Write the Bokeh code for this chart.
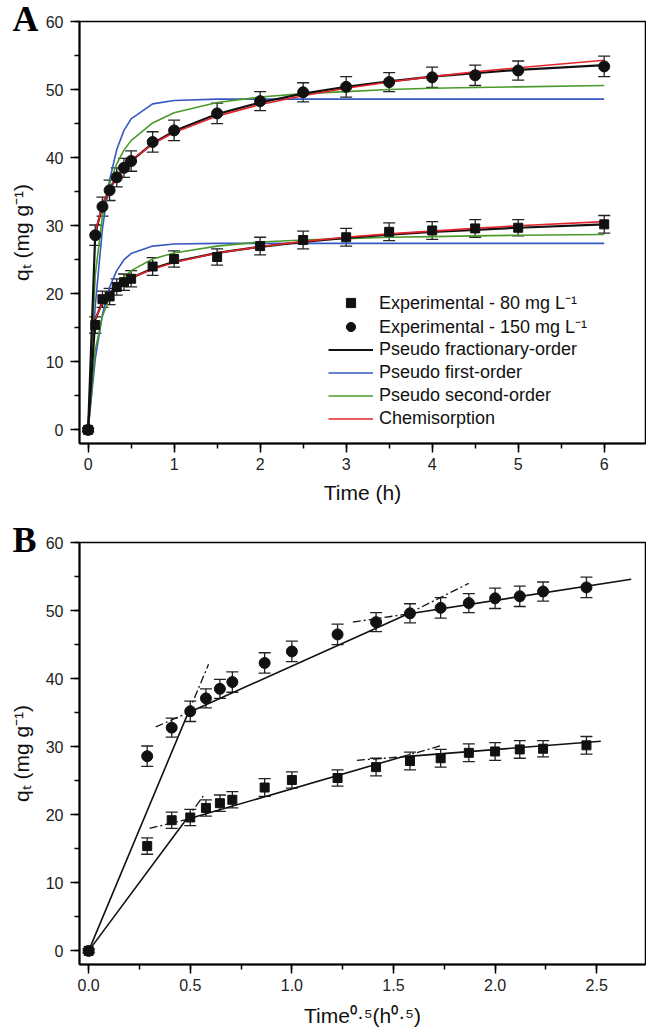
import numpy as np
from bokeh.plotting import figure
from bokeh.models import (ColumnDataSource, Whisker, TeeHead, Legend, LegendItem, Title,
                          SingleIntervalTicker, NumeralTickFormatter, Range1d)
from bokeh.layouts import column
from bokeh.embed import file_html
from bokeh.resources import INLINE

# ---------------- data ----------------
time_h = [0, 0.083, 0.167, 0.25, 0.333, 0.417, 0.5, 0.75, 1, 1.5, 2, 2.5, 3, 3.5, 4, 4.5, 5, 6]

q_80 = [0, 15.4, 19.2, 19.6, 21.0, 21.7, 22.2, 24.0, 25.1, 25.4, 27.0, 27.9, 28.3, 29.1, 29.3, 29.6, 29.7, 30.2]
err_80 = [0.3, 1.2, 1.2, 1.2, 1.2, 1.2, 1.2, 1.3, 1.2, 1.2, 1.3, 1.3, 1.3, 1.3, 1.3, 1.3, 1.2, 1.3]
q_150 = [0, 28.6, 32.8, 35.2, 37.1, 38.5, 39.5, 42.3, 44.0, 46.5, 48.3, 49.6, 50.4, 51.1, 51.8, 52.1, 52.8, 53.4]
err_150 = [0.3, 1.5, 1.4, 1.5, 1.4, 1.4, 1.5, 1.5, 1.5, 1.5, 1.4, 1.4, 1.5, 1.4, 1.5, 1.5, 1.4, 1.5]

# model curves read at the experimental times
frac_80 = [0, 16.2, 18.8, 20.1, 21.0, 21.7, 22.3, 23.7, 24.7, 26.0, 26.9, 27.6, 28.2, 28.7, 29.1, 29.4, 29.7, 30.2]
frac_150 = [0, 28.8, 33.0, 35.4, 37.1, 38.4, 39.5, 42.1, 43.9, 46.4, 48.1, 49.4, 50.4, 51.2, 51.9, 52.4, 52.9, 53.6]
first_80 = [0, 10.4, 17.0, 21.0, 23.4, 25.0, 25.9, 27.0, 27.3, 27.4, 27.4, 27.4, 27.4, 27.4, 27.4, 27.4, 27.4, 27.4]
first_150 = [0, 18.2, 29.6, 36.7, 41.2, 44.0, 45.7, 47.9, 48.4, 48.6, 48.6, 48.6, 48.6, 48.6, 48.6, 48.6, 48.6, 48.6]
second_80 = [0, 11.7, 16.7, 19.5, 21.3, 22.5, 23.4, 25.1, 26.0, 27.0, 27.6, 27.9, 28.1, 28.3, 28.4, 28.5, 28.6, 28.7]
second_150 = [0, 22.7, 31.5, 36.2, 39.1, 41.1, 42.5, 45.1, 46.6, 48.1, 48.9, 49.4, 49.7, 50.0, 50.2, 50.3, 50.4, 50.6]
# chemisorption (Elovich) starts at the first non-zero time
chem_80 = [16.3, 18.6, 20.0, 20.9, 21.7, 22.3, 23.6, 24.6, 26.0, 26.9, 27.7, 28.3, 28.8, 29.2, 29.6, 30.0, 30.6]
chem_150 = [29.0, 33.1, 35.5, 37.2, 38.5, 39.6, 42.0, 43.7, 46.1, 47.8, 49.1, 50.2, 51.1, 51.9, 52.6, 53.2, 54.3]

# panel B: intraparticle diffusion multilinear fits (break points)
ipd_150_x = [0, 0.49, 1.57, 2.67]
ipd_150_y = [0, 35.0, 49.5, 54.6]
ipd_80_x = [0, 0.48, 1.54, 2.52]
ipd_80_y = [0, 19.3, 28.5, 30.8]
# dash-dot extensions of the linear stages
ext_150_x = [[0.49, 0.59], [0.33, 0.49], [1.57, 1.87], [1.30, 1.57]]
ext_150_y = [[35.0, 42.1], [32.9, 35.0], [49.5, 54.0], [48.3, 49.5]]
ext_80_x = [[0.48, 0.57], [0.30, 0.48], [1.54, 1.74], [1.32, 1.54]]
ext_80_y = [[19.3, 23.0], [18.0, 19.3], [28.5, 30.2], [28.0, 28.5]]

legend_labels = ["Experimental - 80 mg L\u207b\u00b9", "Experimental - 150 mg L\u207b\u00b9",
                 "Pseudo fractionary-order", "Pseudo first-order",
                 "Pseudo second-order", "Chemisorption"]
panel_letters = ["A", "B"]

BLUE = "#3758c0"
GREEN = "#4b9a2c"
RED = "#e3242b"
BLACK = "#111111"
FONT = "Liberation Sans"


def style(p, xint, fmt=None):
    p.outline_line_color = "black"
    p.outline_line_width = 1.5
    p.xgrid.visible = False
    p.ygrid.visible = False
    p.background_fill_color = "white"
    p.border_fill_color = "white"
    p.xaxis.ticker = SingleIntervalTicker(interval=xint, num_minor_ticks=2)
    p.yaxis.ticker = SingleIntervalTicker(interval=10, num_minor_ticks=2)
    if fmt:
        p.xaxis.formatter = NumeralTickFormatter(format=fmt)
    for ax in (p.xaxis[0], p.yaxis[0]):
        ax.axis_line_width = 2
        ax.axis_line_color = "black"
        ax.major_tick_out = 9
        ax.major_tick_in = 0
        ax.minor_tick_out = 5
        ax.minor_tick_in = 0
        ax.major_tick_line_width = 1.5
        ax.minor_tick_line_width = 1.5
        ax.major_label_text_font = FONT
        ax.major_label_text_font_size = "16px"
        ax.major_label_text_color = "#222222"
        ax.axis_label_text_font = FONT
        ax.axis_label_text_font_size = "21px"
        ax.axis_label_text_font_style = "normal"
        ax.axis_label_text_color = "#111111"
    p.yaxis.major_label_standoff = 7
    p.yaxis.axis_label_standoff = 10
    p.xaxis.major_label_standoff = 5


def errbars(p, x, y, e):
    src = ColumnDataSource(dict(x=x, up=[a + b for a, b in zip(y, e)], lo=[a - b for a, b in zip(y, e)]))
    w = Whisker(source=src, base="x", upper="up", lower="lo", line_color="#222222", line_width=1.3,
                upper_head=TeeHead(size=12, line_color="#222222", line_width=1.3),
                lower_head=TeeHead(size=12, line_color="#222222", line_width=1.3))
    p.add_layout(w)


def panel_letter(p, txt):
    t = Title(text=txt, align="left", offset=-67, standoff=-34,
              text_font="Liberation Serif", text_font_style="bold", text_font_size="36px",
              text_color="black")
    p.add_layout(t, "above")


# ---------------- panel A ----------------
pa = figure(width=646, height=521, x_range=Range1d(-0.1, 6.48), y_range=Range1d(-2, 60),
            output_backend="svg", toolbar_location=None,
            min_border_left=79, min_border_right=1, min_border_top=21, min_border_bottom=78)
style(pa, 1)
pa.xaxis.axis_label = "Time (h)"
pa.xaxis.axis_label_standoff = 8
pa.yaxis.axis_label = "q\u209c (mg g\u207b\u00b9)"

b1 = pa.line(time_h, first_80, line_color=BLUE, line_width=1.6)
pa.line(time_h, first_150, line_color=BLUE, line_width=1.6)
g1 = pa.line(time_h, second_80, line_color=GREEN, line_width=1.6)
pa.line(time_h, second_150, line_color=GREEN, line_width=1.6)
k1 = pa.line(time_h, frac_80, line_color=BLACK, line_width=2.2)
pa.line(time_h, frac_150, line_color=BLACK, line_width=2.2)
r1 = pa.line(time_h[1:], chem_80, line_color=RED, line_width=1.6)
pa.line(time_h[1:], chem_150, line_color=RED, line_width=1.6)
sq = pa.scatter(time_h, q_80, marker="square", size=9, color=BLACK)
ci = pa.scatter(time_h, q_150, marker="circle", size=11, color=BLACK)
errbars(pa, time_h, q_80, err_80)
errbars(pa, time_h, q_150, err_150)

leg = Legend(items=[LegendItem(label=legend_labels[0], renderers=[sq]),
                    LegendItem(label=legend_labels[1], renderers=[ci]),
                    LegendItem(label=legend_labels[2], renderers=[k1]),
                    LegendItem(label=legend_labels[3], renderers=[b1]),
                    LegendItem(label=legend_labels[4], renderers=[g1]),
                    LegendItem(label=legend_labels[5], renderers=[r1])],
             location=(249, 13))
leg.background_fill_alpha = 0
leg.border_line_alpha = 0
leg.padding = 0
leg.margin = 0
leg.spacing = 0
leg.glyph_width = 45
leg.glyph_height = 23
leg.label_height = 23
leg.label_standoff = 6
leg.label_text_font = FONT
leg.label_text_font_size = "18px"
leg.label_text_color = "#111111"
pa.add_layout(leg)
panel_letter(pa, panel_letters[0])

# ---------------- panel B ----------------
sqrt_t = np.sqrt(np.array(time_h)).tolist()
pb = figure(width=646, height=509, x_range=Range1d(-0.045, 2.74), y_range=Range1d(-2, 60),
            output_backend="svg", toolbar_location=None,
            min_border_left=79, min_border_right=1, min_border_top=21, min_border_bottom=66)
style(pb, 0.5, "0.0")
pb.xaxis.axis_label = "Time\u2070\u00b7\u2075(h\u2070\u00b7\u2075)"
pb.xaxis.axis_label_standoff = 10
pb.yaxis.axis_label = "q\u209c (mg g\u207b\u00b9)"

pb.line(ipd_150_x, ipd_150_y, line_color=BLACK, line_width=1.6)
pb.line(ipd_80_x, ipd_80_y, line_color=BLACK, line_width=1.6)
pb.multi_line(ext_150_x, ext_150_y, line_color=BLACK, line_width=1.3, line_dash="8 3 2 3")
pb.multi_line(ext_80_x, ext_80_y, line_color=BLACK, line_width=1.3, line_dash="8 3 2 3")
pb.scatter(sqrt_t, q_80, marker="square", size=9, color=BLACK)
pb.scatter(sqrt_t, q_150, marker="circle", size=11, color=BLACK)
errbars(pb, sqrt_t, q_80, err_80)
errbars(pb, sqrt_t, q_150, err_150)
panel_letter(pb, panel_letters[1])

layout = column(pa, pb, spacing=0)
open("out.html", "w").write(file_html(layout, INLINE))
